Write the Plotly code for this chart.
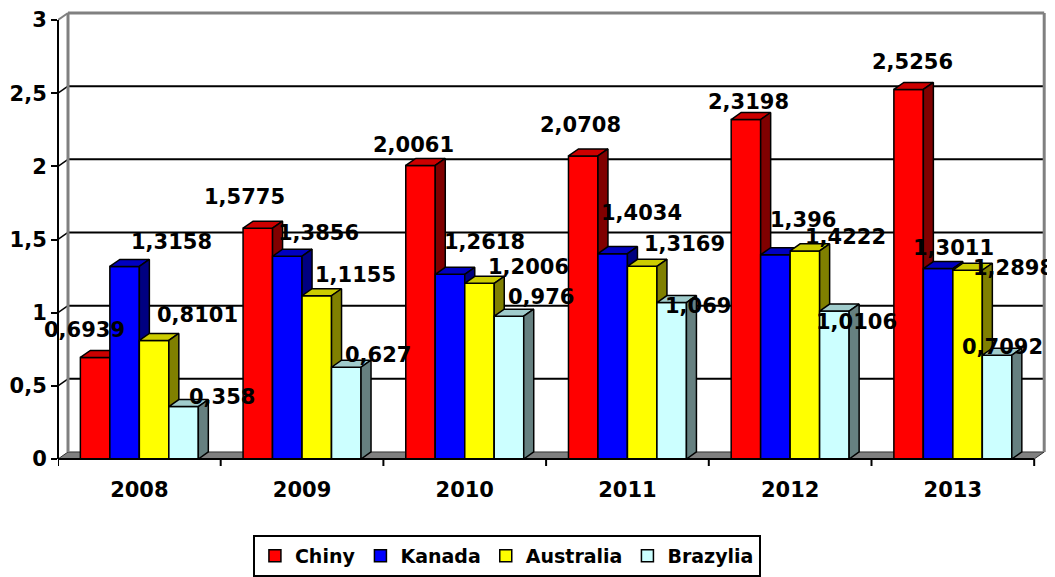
import plotly.graph_objects as go

# ---------------- data ----------------
years = ["2008", "2009", "2010", "2011", "2012", "2013"]
series_names = ["Chiny", "Kanada", "Australia", "Brazylia"]
chiny = [0.6939, 1.5775, 2.0061, 2.0708, 2.3198, 2.5256]
kanada = [1.3158, 1.3856, 1.2618, 1.4034, 1.396, 1.3011]
australia = [0.8101, 1.1155, 1.2006, 1.3169, 1.4222, 1.2898]
brazylia = [0.358, 0.627, 0.976, 1.069, 1.0106, 0.7092]
y_ticks = [0, 0.5, 1, 1.5, 2, 2.5, 3]
y_tick_labels = ["0", "0,5", "1", "1,5", "2", "2,5", "3"]

# ---------------- styles ----------------
front_colors = ["#FF0000", "#0000FF", "#FFFF00", "#CCFFFF"]
top_colors = ["#CC0000", "#0000C0", "#CCCC00", "#A0CCCC"]
side_colors = ["#800000", "#000080", "#808000", "#668080"]
# data-label pixel offsets from the bar's top centre (x right, y down)
label_dx = [[-11, -13, -7, -3, 3, 4],
            [47, 31, 34, 29, 28, 15],
            [43, 39, 49, 42, 41, 46],
            [38, 32, 32, 26, 22, 5]]
label_dy = [[-27, -31, -20, -31, -18, -27],
            [-24, -23, -32, -41, -35, -21],
            [-25, -21, -16, -22, -14, -2],
            [-10, -12, -19, 3, 11, -8]]

BAR_W = 0.18125
GROUP_W = 4 * BAR_W
DX = 0.0615   # 3-D depth, x units
DY = 0.048    # 3-D depth, y units
X_MIN, X_MAX = -0.5, 5.591
Y_MAX = 3.0615
FONT = dict(family="DejaVu Sans", size=21, color="black", weight="bold")

values = [chiny, kanada, australia, brazylia]
xpos = list(range(len(years)))

fig = go.Figure()
annotations = []
for s, (name, vals) in enumerate(zip(series_names, values)):
    xa = "x" if s == 0 else f"x{s + 1}"
    off = -GROUP_W / 2 + s * BAR_W
    fig.add_trace(go.Bar(
        x=xpos, y=vals, name=name, xaxis=xa, yaxis="y",
        width=BAR_W, offset=off,
        marker=dict(color=front_colors[s], line=dict(color="black", width=1.5)),
        hoverinfo="skip"))
    tx, ty, sx, sy = [], [], [], []
    for c, v in zip(xpos, vals):
        l = c + off
        r = l + BAR_W
        tx += [l, r, r + DX, l + DX, l, None]
        ty += [v, v, v + DY, v + DY, v, None]
        sx += [r, r + DX, r + DX, r, r, None]
        sy += [0, DY, v + DY, v, 0, None]
        annotations.append(dict(
            x=c + off + BAR_W / 2, y=v, xref="x", yref="y",
            text=f"{v}".replace(".", ","), showarrow=False,
            xanchor="center", yanchor="middle",
            xshift=label_dx[s][c], yshift=-label_dy[s][c], font=FONT))
    fig.add_trace(go.Scatter(
        x=tx, y=ty, xaxis=xa, yaxis="y", mode="lines", fill="toself",
        fillcolor=top_colors[s], line=dict(color="black", width=1.5),
        showlegend=False, hoverinfo="skip"))
    fig.add_trace(go.Scatter(
        x=sx, y=sy, xaxis=xa, yaxis="y", mode="lines", fill="toself",
        fillcolor=side_colors[s], line=dict(color="black", width=1.5),
        showlegend=False, hoverinfo="skip"))

# ---------------- walls, floor, gridlines ----------------
GREY = "#808080"
xl, xr = -0.5, 5.5
shapes = []
# floor
shapes.append(dict(type="path", xref="x", yref="y", layer="below",
                   path=f"M {xl},0 L {xr},0 L {xr + DX},{DY} L {xl + DX},{DY} Z",
                   fillcolor=GREY, line=dict(color="#333333", width=1)))
# gridlines on back wall + side wall
for v in y_ticks[1:-1]:
    shapes.append(dict(type="line", xref="x", yref="y", layer="below",
                       x0=xl + DX, x1=xr + DX, y0=v + DY, y1=v + DY,
                       line=dict(color="black", width=2)))
    shapes.append(dict(type="line", xref="x", yref="y", layer="below",
                       x0=xl, x1=xl + DX, y0=v, y1=v + DY,
                       line=dict(color="black", width=1.5)))
# wall borders
top = y_ticks[-1]
shapes += [
    dict(type="line", xref="x", yref="y", layer="below", x0=xl + DX, x1=xl + DX,
         y0=DY, y1=top + DY, line=dict(color=GREY, width=3)),
    dict(type="line", xref="x", yref="y", layer="below", x0=xl, x1=xl + DX,
         y0=top, y1=top + DY, line=dict(color=GREY, width=2)),
    dict(type="line", xref="x", yref="y", layer="below", x0=xl + DX, x1=xr + DX,
         y0=top + DY, y1=top + DY, line=dict(color=GREY, width=3)),
    dict(type="line", xref="x", yref="y", layer="below", x0=xr + DX, x1=xr + DX,
         y0=DY, y1=top + DY, line=dict(color=GREY, width=3)),
]
# front axes
shapes.append(dict(type="line", xref="x", yref="paper", x0=xl, x1=xr, y0=0, y1=0,
                   line=dict(color="black", width=2)))
shapes.append(dict(type="line", xref="paper", yref="y", x0=0, x1=0, y0=0, y1=top,
                   line=dict(color="black", width=2)))
for b in range(len(years) + 1):
    shapes.append(dict(type="line", xref="x", yref="paper", x0=xl + b, x1=xl + b,
                       y0=0, y1=-7 / 448, line=dict(color="black", width=2)))

layout_axes = dict(
    xaxis=dict(range=[X_MIN, X_MAX], tickvals=xpos, ticktext=years, ticks="",
               showgrid=False, zeroline=False, showline=False, tickfont=FONT,
               ticklabelstandoff=16, fixedrange=True, automargin=False),
    yaxis=dict(range=[0, Y_MAX], tickvals=y_ticks, ticktext=y_tick_labels,
               ticks="outside", ticklen=6, tickwidth=2, tickcolor="black",
               showgrid=False, zeroline=False, showline=False, tickfont=FONT,
               fixedrange=True, automargin=False),
)
for s in range(1, len(series_names)):
    layout_axes[f"xaxis{s + 1}"] = dict(range=[X_MIN, X_MAX], overlaying="x",
                                        visible=False, fixedrange=True)

# the page body keeps its default 8px margin, so the figure is 8px smaller
fig.update_layout(
    **layout_axes,
    width=1047, height=569,
    margin=dict(l=50, r=6, t=3, b=118, pad=0, autoexpand=False),
    barmode="overlay",
    plot_bgcolor="white", paper_bgcolor="white",
    shapes=shapes, annotations=annotations,
    legend=dict(orientation="h", x=0.453, xanchor="center", y=-0.1696,
                yanchor="top", bordercolor="black", borderwidth=2,
                bgcolor="white", font=dict(FONT, size=19), traceorder="normal"),
    showlegend=True,
)

fig.write_html("out.html")
